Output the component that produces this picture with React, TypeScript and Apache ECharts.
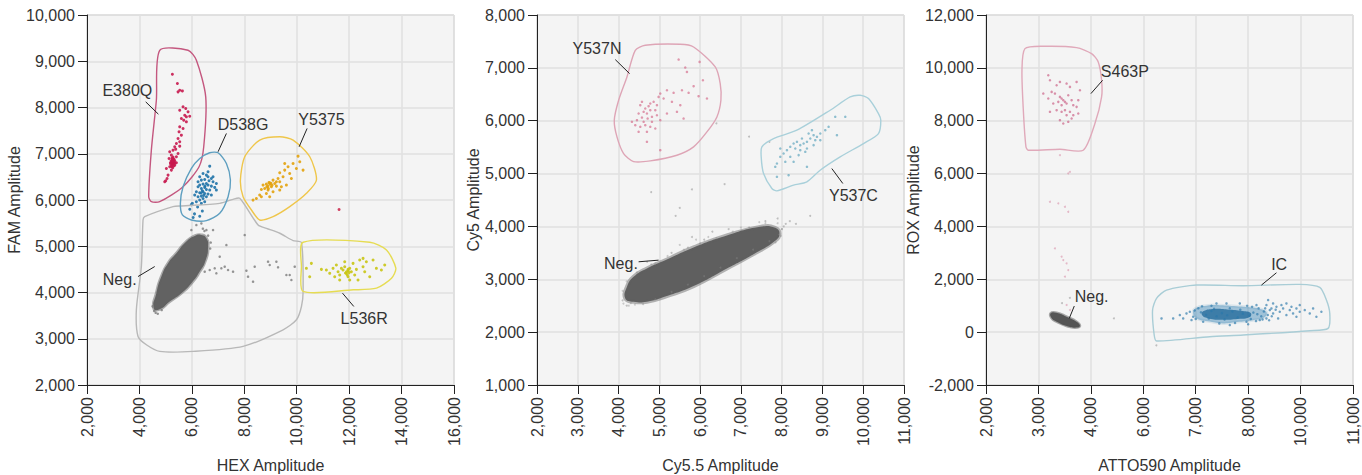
import React, { useEffect, useRef } from "react";
import * as echarts from "echarts";

// ---------- axis definitions ----------
const ATTO_TICKS = [2000, 3000, 4000, 6000, 7000, 8000, 10000, 11000];

// ---------- Panel 1 (HEX vs FAM) ----------
const p1E380Q: number[][] = [
  [5257, 8719], [5448, 8518], [5537, 8373], [5473, 8338], [5638, 8359], [5664, 8014], [5766, 7978], [5537, 7942],
  [5855, 7906], [5728, 7834], [5791, 7798], [5918, 7812], [5600, 7762], [5689, 7726], [5791, 7690], [5537, 7582],
  [5664, 7546], [5511, 7474], [5600, 7402], [5473, 7330], [5537, 7258], [5410, 7222], [5346, 7150], [5282, 7078],
  [5155, 7042], [5219, 6970], [5282, 6898], [5130, 6898], [5346, 6847], [5181, 6804], [5257, 6775], [5346, 6754],
  [5155, 6718], [5028, 6682], [5219, 6646], [5092, 6538], [5054, 6466], [5003, 6415], [4965, 6394], [5410, 6934],
  [5473, 7006], [5537, 7164], [5384, 7099], [5244, 6826], [5308, 6804], [5232, 6718], [5410, 6804], [5270, 6860],
  [5230, 6800], [5300, 6790], [5260, 6760], [5210, 6850], [5320, 6880], [5280, 6930], [5240, 6900], [5190, 6780],
  [5350, 6800], [5290, 6830], [5250, 6820], [5220, 6740], [5310, 6740], [5270, 6700], [5260, 6880], [5300, 6850],
];
const p1D538G: number[][] = [
  [6681, 6732], [6427, 6574], [6554, 6538], [6617, 6502], [6744, 6466], [6490, 6444], [6363, 6430], [6655, 6416],
  [6808, 6394], [6554, 6358], [6427, 6344], [6299, 6322], [6617, 6322], [6744, 6300], [6490, 6272], [6363, 6250],
  [6236, 6286], [6554, 6228], [6681, 6214], [6427, 6178], [6299, 6156], [6172, 6178], [6490, 6142], [6617, 6128],
  [6363, 6084], [6236, 6070], [6427, 6034], [6299, 5998], [6554, 6070], [6872, 6272], [6935, 6214], [6109, 6106],
  [6172, 5962], [6363, 5926], [6020, 5926], [6490, 5962], [6744, 6106], [6808, 6502], [6617, 6610], [6935, 6358],
  [6299, 6502], [6236, 6394], [5920, 5800], [6100, 5700], [6300, 5650], [6050, 5620], [6400, 5760], [5980, 5900],
  [6220, 5850], [6400, 6200], [6500, 6300], [6350, 6150], [6450, 6100],
];
const p1Y5375: number[][] = [
  [10051, 6948], [9860, 6790], [9670, 6718], [9542, 6646], [9352, 6588], [9733, 6574], [9479, 6502], [9288, 6466],
  [9097, 6430], [9352, 6394], [9161, 6358], [8970, 6372], [8843, 6343], [9034, 6286], [9224, 6300], [8779, 6250],
  [8907, 6214], [8652, 6228], [9097, 6178], [8843, 6142], [8588, 6106], [8461, 6034], [8334, 5998], [8970, 6070],
  [9352, 6214], [9606, 6322], [10115, 6826], [10242, 6646], [9987, 6682], [9797, 6466], [8716, 6322], [9224, 6394],
  [9415, 6286], [8652, 6070], [9542, 6790], [8900, 6300], [8980, 6340], [9020, 6360], [8860, 6280], [8940, 6380],
  [9060, 6320], [8920, 6250],
];
const p1L536R: number[][] = [
  [10368, 4522], [10559, 4630], [10496, 4342], [10941, 4500], [11131, 4486], [11259, 4414], [11386, 4522], [11513, 4594],
  [11577, 4450], [11640, 4378], [11767, 4486], [11831, 4558], [11894, 4414], [11958, 4342], [12022, 4522], [12085, 4450],
  [12149, 4630], [12212, 4378], [12276, 4500], [12403, 4702], [12530, 4558], [12594, 4450], [12657, 4666], [12785, 4342],
  [12912, 4702], [13039, 4522], [13230, 4486], [13357, 4594], [11640, 4270], [12022, 4270], [11831, 4666], [11449, 4342],
  [12530, 4738], [12339, 4270], [11704, 4522], [11958, 4472], [11900, 4450], [11960, 4500], [11860, 4420], [12000, 4430],
  [11930, 4380],
];
const p1Stray: number[][] = [
  [7062, 4774], [7317, 5026], [8016, 5242], [6872, 4522], [7126, 4522], [7380, 4486], [6681, 4486], [6490, 4450],
  [7571, 4450], [8080, 4472], [8143, 4342], [8397, 4558], [8334, 4234], [8906, 4666], [8970, 4594], [9224, 4666],
  [9288, 4544], [9606, 4378], [9733, 4378], [9924, 4558], [9797, 4270], [6935, 4414], [7253, 4558], [6808, 5350],
  [6554, 5350], [6172, 5458], [6363, 5494], [5981, 5350], [4620, 3560], [4700, 3540], [4500, 3700], [6620, 5230],
  [6480, 5330], [6700, 4950], [4850, 3620], [6720, 5080], [4560, 3600], [6420, 5380],
];
const p1RedStray: number[][] = [[11615, 5796]];
const p1NegBlob: number[][] = [
  [4545, 3662], [4646, 3986], [4837, 4345], [5092, 4633], [5410, 4849], [5791, 5101], [6109, 5223], [6364, 5245],
  [6555, 5173], [6618, 4993], [6529, 4705], [6300, 4453], [5982, 4201], [5601, 3986], [5155, 3806], [4774, 3640],
];
const p1GateE380Q: number[][] = [
  [4774, 9237], [5855, 9237], [6173, 9022], [6529, 8230], [6453, 7151], [6275, 6719], [5664, 6288], [4774, 5964],
  [4455, 5964], [4354, 6072], [4455, 7079], [4646, 8158],
];
const p1GateD538G: number[][] = [
  [6682, 7022], [7000, 7022], [7318, 6791], [7471, 6432], [7382, 6072], [7064, 5712], [6555, 5554], [5982, 5568],
  [5639, 5676], [5562, 5928], [5664, 6288], [5982, 6683], [6300, 6899],
];
const p1GateY5375: number[][] = [
  [8590, 7295], [9354, 7367], [9863, 7295], [10499, 6935], [10753, 6432], [10372, 6144], [9735, 5856], [9099, 5640],
  [8590, 5568], [8272, 5784], [7954, 6072], [7852, 6432], [8018, 6935],
];
const p1GateL536R: number[][] = [
  [10244, 5086], [12789, 5086], [13425, 4921], [13781, 4525], [13616, 4309], [13043, 4094], [12153, 4058], [10244, 4022],
  [10181, 4561],
];
const p1GateNeg: number[][] = [
  [4201, 5640], [5282, 5856], [5600, 5871], [7064, 5928], [7573, 6014], [7827, 6036], [8527, 5460], [8845, 5388],
  [9354, 5281], [9863, 5122], [10181, 5079], [10244, 4022], [10181, 3698], [9990, 3410], [9481, 3194], [7954, 2835],
  [6046, 2727], [4774, 2727], [4265, 2871], [3947, 3050], [3883, 3626], [4074, 4561], [4137, 5568],
];
const p1LabelNames = ["E380Q", "D538G", "Y5375", "L536R", "Neg."];
// [textX, textY, lineX1, lineY1, lineX2, lineY2]
const p1Labels: number[][] = [
  [3539, 8374, 4239, 8122, 4723, 7856],
  [7954, 7640, 7318, 7439, 7000, 7043],
  [10944, 7748, 10397, 7547, 10092, 7151],
  [12573, 3446, 12178, 3698, 11746, 3986],
  [3247, 4288, 3947, 4345, 4583, 4561],
];

// ---------- Panel 2 (Cy5.5 vs Cy5) ----------
const p2Y537N: number[][] = [
  [5473, 7157], [5636, 7005], [5677, 6923], [5988, 7113], [6069, 6766], [5841, 6653], [5963, 6464], [5718, 6527],
  [5555, 6577], [5350, 6527], [5187, 6577], [5023, 6514], [4982, 6451], [5105, 6420], [5309, 6357], [5514, 6294],
  [4860, 6357], [4778, 6325], [4737, 6275], [4655, 6231], [4574, 6357], [4533, 6294], [4615, 6168], [4696, 6136],
  [4778, 6199], [4901, 6199], [4941, 6104], [4819, 6073], [4713, 6041], [4574, 6060], [4451, 6010], [4328, 5979],
  [4410, 5915], [4533, 5884], [4655, 5915], [4778, 5884], [4901, 5853], [4696, 5790], [4492, 5790], [4696, 5600],
  [5023, 6010], [5187, 6136], [5432, 6168], [6168, 6420], [5595, 6041], [5023, 5443], [4941, 6294], [4819, 5979],
  [4615, 5979], [4492, 6136],
];
const p2Y537C: number[][] = [
  [9151, 5884], [9069, 5821], [8947, 5758], [8865, 5695], [8783, 5727], [8702, 5664], [8620, 5601], [8538, 5569],
  [8456, 5538], [8375, 5601], [8293, 5569], [8211, 5506], [8129, 5443], [8048, 5380], [7966, 5317], [7884, 5191],
  [7843, 5128], [8211, 5317], [8456, 5443], [8620, 5475], [8783, 5538], [8947, 5632], [8497, 5664], [8334, 5475],
  [8661, 5758], [9355, 5727], [9560, 6073], [9314, 6073], [7966, 5475], [8089, 5222], [8293, 5222], [7884, 4939],
  [8170, 4970], [8824, 5632], [8579, 5412], [8416, 5349], [8742, 5821], [8620, 5128],
];
const p2Stray: number[][] = [
  [8100, 4050], [8200, 4100], [8350, 4050], [8700, 4200], [7900, 4150], [5400, 4200], [5500, 4350], [5800, 3800],
  [6300, 3900], [6700, 3950], [8000, 3950], [6600, 4800], [7200, 5700], [6400, 5950], [5800, 4700], [4800, 4650],
  [4200, 2500], [4100, 2600], [7700, 5600], [7600, 4100], [8050, 4000], [5300, 3500], [4900, 3300], [5700, 3600],
  [6100, 3750], [4300, 2550], [7850, 3700], [7950, 3850],
];
const p2Halo: number[][] = [
  [4120, 2540], [4250, 2500], [4400, 2520], [4600, 2530], [4900, 2620], [5300, 2760], [5700, 2900], [6100, 3060],
  [6500, 3220], [6900, 3400], [7300, 3560], [7700, 3720], [7980, 3820], [8010, 3950], [7900, 4060], [7600, 4060],
  [7200, 3980], [6800, 3900], [6400, 3780], [6000, 3680], [5600, 3560], [5200, 3440], [4800, 3280], [4450, 3130],
  [4200, 2960], [4100, 2780], [5500, 3650], [6200, 3800], [7000, 3980], [7450, 4080], [4700, 3330], [5900, 3750],
];
const p2NegBlob: number[][] = [
  [4165, 2638], [4369, 2575], [4696, 2575], [5186, 2682], [5840, 2871], [6657, 3205], [7310, 3476], [7841, 3728],
  [7948, 3866], [7841, 3974], [7474, 3992], [6657, 3829], [5840, 3602], [5186, 3375], [4696, 3205], [4369, 3047],
  [4206, 2858],
];
const p2GateY537N: number[][] = [
  [4410, 7332], [4655, 7427], [5513, 7446], [5840, 7395], [6371, 7017], [6493, 6702], [6510, 6387], [6412, 6072],
  [6167, 5788], [5840, 5505], [5431, 5347], [4778, 5240], [4369, 5227], [4124, 5379], [3961, 5694], [3895, 6009],
  [4002, 6387], [4206, 6828],
];
const p2GateY537C: number[][] = [
  [7515, 5505], [7801, 5662], [8373, 5820], [9190, 6198], [9680, 6450], [9925, 6481], [10129, 6418], [10374, 6135],
  [10431, 6009], [10374, 5757], [10007, 5568], [9435, 5316], [8944, 5064], [8618, 4843], [8291, 4780], [7882, 4673],
  [7760, 4717], [7556, 5001], [7498, 5316],
];
const p2LabelNames = ["Y537N", "Y537C", "Neg."];
const p2Labels: number[][] = [
  [3471, 7364, 3920, 7156, 4271, 6891],
  [9761, 4591, 9500, 4812, 9230, 5095],
  [4059, 3299, 4492, 3331, 4982, 3362],
];

// ---------- Panel 3 (ATTO590 vs ROX), x values in tick-label units ----------
const p3S463P: number[][] = [
  [3188, 9721], [3220, 9532], [3347, 9343], [3410, 9469], [3537, 9406], [3601, 9280], [3728, 9469], [3252, 9091],
  [3315, 9028], [3410, 8902], [3442, 8839], [3474, 8776], [3506, 8713], [3537, 8650], [3442, 8587], [3379, 8713],
  [3569, 8965], [3633, 8776], [3665, 8587], [3506, 8398], [3442, 8335], [3601, 8335], [3537, 8209], [3665, 8209],
  [3410, 8020], [3474, 7894], [3633, 8083], [3728, 8524], [3760, 8776], [3283, 8650], [3188, 8839], [3093, 9028],
  [3347, 8398], [3569, 7957], [3760, 8272], [3220, 8335], [3792, 9154],
];
const p3PinkStray: number[][] = [
  [3410, 6697], [3601, 6067], [3569, 6004], [3220, 4933], [3379, 4870], [3506, 4744], [3569, 4555], [3315, 3169],
  [3442, 2854], [3474, 2728], [3537, 2602], [3569, 2350], [3506, 2098], [3537, 1027], [3601, 838],
];
const p3IC: number[][] = [
  [6697, 646], [6761, 520], [6824, 709], [6888, 772], [6951, 583], [6920, 457], [8826, 835], [8952, 709],
  [9080, 961], [9206, 772], [9334, 898], [9460, 646], [9588, 835], [9714, 709], [9842, 898], [9968, 772],
  [10080, 835], [10175, 709], [10239, 898], [10302, 583], [8698, 1024], [8952, 1087], [8318, 1024], [8444, 457],
  [8698, 520], [7968, 394], [7841, 1087], [7587, 1087], [7396, 1087], [7142, 394], [7650, 268], [6570, 520],
  [6348, 520], [10397, 772], [9460, 1087], [9842, 583], [9144, 520], [8762, 1213], [8888, 898], [9270, 1024],
  [9652, 961], [9968, 1024], [7100, 750], [7200, 650], [7300, 800], [7400, 600], [7500, 720], [7600, 640],
  [7700, 780], [7800, 560], [7900, 700], [8050, 620], [8200, 740], [8350, 680], [7250, 520], [7550, 480],
  [7850, 850], [7350, 880], [7650, 900], [8100, 500], [8500, 600], [8600, 780], [8400, 900], [8750, 650],
  [7050, 900], [7120, 980], [7000, 500], [7300, 1000], [7980, 1000], [8150, 960], [8300, 420], [8550, 480],
  [8650, 900], [8900, 600], [9050, 850], [7450, 330], [7750, 350], [8000, 300], [6980, 820], [8800, 450],
];
const p3ICOuter: number[][] = [
  [7000, 900], [7206, 1000], [7460, 1020], [7777, 980], [8062, 940], [8444, 880], [8700, 760], [8620, 560],
  [8190, 450], [7777, 380], [7523, 330], [7269, 400], [7020, 520], [6950, 720],
];
const p3ICCore: number[][] = [
  [7150, 800], [7350, 880], [7600, 860], [7900, 800], [8100, 720], [8050, 560], [7800, 500], [7500, 470],
  [7250, 520], [7120, 650],
];
const p3NegBlob: number[][] = [
  [3232, 712], [3347, 737], [3537, 586], [3728, 397], [3792, 233], [3696, 170], [3537, 233], [3347, 397], [3252, 523],
];
const p3GreyStray: number[][] = [[4880, 521], [3600, 1300], [3450, 1100], [6250, -500]];
const p3GateS463P: number[][] = [
  [2743, 10727], [3093, 10816], [3728, 10765], [4028, 10538], [4282, 10223], [4410, 9530], [4410, 8900], [4155, 7892],
  [3855, 6884], [3410, 6922], [2807, 6884], [2762, 7010], [2712, 8396], [2686, 9908],
];
const p3GateIC: number[][] = [
  [6443, 1592], [7015, 1781], [7905, 1756], [9970, 1806], [10366, 1693], [10493, 1214], [10557, 710], [10525, 143],
  [10175, 55], [7905, -109], [7269, -172], [6253, -336], [6208, -109], [6177, 836], [6253, 1277],
];
const p3LabelNames = ["S463P", "IC", "Neg."];
const p3Labels: number[][] = [
  [5298, 9845, 4448, 9530, 4002, 9026],
  [9182, 2575, 9080, 2247, 8508, 1781],
  [4028, 1340, 3684, 987, 3588, 521],
];

// ---------- helpers ----------
const FONT = '"Liberation Sans", Arial, sans-serif';
const TEXT = "#333333";

function attoPos(v: number): number {
  const t = ATTO_TICKS;
  if (v <= t[0]) return (v - t[0]) / (t[1] - t[0]);
  for (let i = 0; i < t.length - 1; i++) {
    if (v <= t[i + 1]) return i + (v - t[i]) / (t[i + 1] - t[i]);
  }
  const n = t.length - 1;
  return n + (v - t[n]) / (t[n] - t[n - 1]);
}
const mapX3 = (pts: number[][]) => pts.map((p) => [attoPos(p[0]), p[1]]);
const fmt = (v: number) => Math.round(v).toLocaleString("en-US");

function scatter(i: number, data: number[][], color: string, size = 3, opacity = 1) {
  return {
    type: "scatter",
    xAxisIndex: i,
    yAxisIndex: i,
    data,
    symbolSize: size,
    silent: true,
    itemStyle: { color, opacity },
    z: 3,
  };
}

function poly(i: number, verts: number[][], opts: any) {
  return {
    type: "custom",
    xAxisIndex: i,
    yAxisIndex: i,
    silent: true,
    z: opts.z ?? 4,
    data: [verts[0]],
    renderItem: (_p: any, api: any) => ({
      type: "polygon",
      shape: { points: verts.map((v) => api.coord(v)), smooth: opts.smooth ?? 0.25 },
      style: {
        fill: opts.fill ?? "none",
        stroke: opts.stroke ?? "none",
        lineWidth: opts.lineWidth ?? 1.4,
        opacity: opts.opacity ?? 1,
      },
    }),
  };
}

function labels(i: number, rows: number[][], names: string[]) {
  return {
    type: "custom",
    xAxisIndex: i,
    yAxisIndex: i,
    silent: true,
    z: 10,
    data: rows,
    renderItem: (params: any, api: any) => {
      const t = api.coord([api.value(0), api.value(1)]);
      const a = api.coord([api.value(2), api.value(3)]);
      const b = api.coord([api.value(4), api.value(5)]);
      return {
        type: "group",
        children: [
          {
            type: "line",
            shape: { x1: a[0], y1: a[1], x2: b[0], y2: b[1] },
            style: { stroke: "#222", lineWidth: 1 },
          },
          {
            type: "text",
            style: {
              text: names[params.dataIndex],
              x: t[0],
              y: t[1],
              align: "center",
              verticalAlign: "middle",
              fill: TEXT,
              fontSize: 16,
              fontFamily: FONT,
            },
          },
        ],
      };
    },
  };
}

const GRID_LEFTS = [87, 537, 986];

function xAxis(i: number, name: string, min: number, max: number, interval: number, formatter: any) {
  return {
    type: "value",
    gridIndex: i,
    min,
    max,
    interval,
    name,
    nameLocation: "middle",
    nameGap: 72,
    nameTextStyle: { color: TEXT, fontSize: 16, fontFamily: FONT },
    axisLine: { show: true, onZero: false, lineStyle: { color: "#222", width: 1 } },
    axisTick: { show: true, length: 9, lineStyle: { color: "#222" } },
    axisLabel: { rotate: 90, margin: 12, color: TEXT, fontSize: 16, fontFamily: FONT, formatter },
    splitLine: { show: true, lineStyle: { color: "#e0e0e0", width: 1.5 } },
  };
}
function yAxis(i: number, name: string, min: number, max: number, interval: number) {
  return {
    type: "value",
    gridIndex: i,
    min,
    max,
    interval,
    name,
    nameLocation: "middle",
    nameGap: 55,
    nameTextStyle: { color: TEXT, fontSize: 16, fontFamily: FONT },
    axisLine: { show: true, onZero: false, lineStyle: { color: "#222", width: 1 } },
    axisTick: { show: true, length: 9, lineStyle: { color: "#222" } },
    axisLabel: { margin: 12, color: TEXT, fontSize: 16, fontFamily: FONT, formatter: (v: number) => fmt(v) },
    splitLine: { show: true, lineStyle: { color: "#e0e0e0", width: 1.5 } },
  };
}

export default function App() {
  const ref = useRef<HTMLDivElement>(null);
  useEffect(() => {
    document.body.style.margin = "0";
    if (!ref.current) return;
    const chart = echarts.init(ref.current, undefined, { renderer: "svg" });
    const grid = GRID_LEFTS.map((left) => ({
      left,
      top: 15,
      width: 367,
      height: 370,
      show: true,
      backgroundColor: "#f4f4f4",
      borderColor: "#c4c4c4",
      borderWidth: 1,
      containLabel: false,
      outerBoundsMode: "none",
    }));
    const option: any = {
      animation: false,
      grid,
      xAxis: [
        xAxis(0, "HEX Amplitude", 2000, 16000, 2000, (v: number) => fmt(v)),
        xAxis(1, "Cy5.5 Amplitude", 2000, 11000, 1000, (v: number) => fmt(v)),
        xAxis(2, "ATTO590 Amplitude", 0, ATTO_TICKS.length - 1, 1, (v: number) =>
          ATTO_TICKS[Math.round(v)] !== undefined ? fmt(ATTO_TICKS[Math.round(v)]) : ""
        ),
      ],
      yAxis: [
        yAxis(0, "FAM Amplitude", 2000, 10000, 1000),
        yAxis(1, "Cy5 Amplitude", 1000, 8000, 1000),
        yAxis(2, "ROX Amplitude", -2000, 12000, 2000),
      ],
      series: [
        // Panel 1
        poly(0, p1NegBlob, { fill: "#626262", stroke: "rgba(98,98,98,0.5)", lineWidth: 3, smooth: 0.6, z: 2 }),
        scatter(0, p1Stray, "#7a7a7a", 2.5, 0.8),
        scatter(0, p1RedStray, "#d04060", 3),
        scatter(0, p1E380Q, "#c8194f", 3, 0.9),
        scatter(0, p1D538G, "#1f73a8", 3, 0.9),
        scatter(0, p1Y5375, "#e3a20c", 3, 0.9),
        scatter(0, p1L536R, "#c9c514", 3, 0.9),
        poly(0, p1GateNeg, { stroke: "#b8b8b8" }),
        poly(0, p1GateE380Q, { stroke: "#c4577f" }),
        poly(0, p1GateD538G, { stroke: "#5e9fc0" }),
        poly(0, p1GateY5375, { stroke: "#efc64a" }),
        poly(0, p1GateL536R, { stroke: "#e6dc52" }),
        labels(0, p1Labels, p1LabelNames),
        // Panel 2
        scatter(1, p2Halo, "#8a8a8a", 2, 0.4),
        poly(1, p2NegBlob, { fill: "#5f5f5f", stroke: "rgba(95,95,95,0.45)", lineWidth: 4, smooth: 0.5, z: 2 }),
        scatter(1, p2Stray, "#9a9a9a", 2, 0.6),
        scatter(1, p2Y537N, "#d5708f", 2.5, 0.7),
        scatter(1, p2Y537C, "#62a6bf", 2.5, 0.7),
        poly(1, p2GateY537N, { stroke: "#dea5b6" }),
        poly(1, p2GateY537C, { stroke: "#a9d0da" }),
        labels(1, p2Labels, p2LabelNames),
        // Panel 3
        poly(2, mapX3(p3NegBlob), { fill: "#555555", stroke: "rgba(85,85,85,0.5)", lineWidth: 2.5, smooth: 0.5, z: 2 }),
        poly(2, mapX3(p3ICOuter), { fill: "#3a86b6", stroke: "rgba(58,134,182,0.3)", lineWidth: 3, smooth: 0.5, opacity: 0.45, z: 2 }),
        poly(2, mapX3(p3ICCore), { fill: "#135f94", smooth: 0.5, opacity: 0.7, z: 2 }),
        scatter(2, mapX3(p3GreyStray), "#9a9a9a", 2, 0.6),
        scatter(2, mapX3(p3PinkStray), "#d890a8", 2, 0.6),
        scatter(2, mapX3(p3S463P), "#cf6f90", 2.5, 0.75),
        scatter(2, mapX3(p3IC), "#2a78aa", 2.5, 0.65),
        poly(2, mapX3(p3GateS463P), { stroke: "#e0a9ba" }),
        poly(2, mapX3(p3GateIC), { stroke: "#a9cdd6" }),
        labels(2, p3Labels.map((r) => [attoPos(r[0]), r[1], attoPos(r[2]), r[3], attoPos(r[4]), r[5]]), p3LabelNames),
      ],
    };
    chart.setOption(option);
    return () => chart.dispose();
  }, []);
  return <div ref={ref} style={{ width: 1362, height: 475 }} />;
}
